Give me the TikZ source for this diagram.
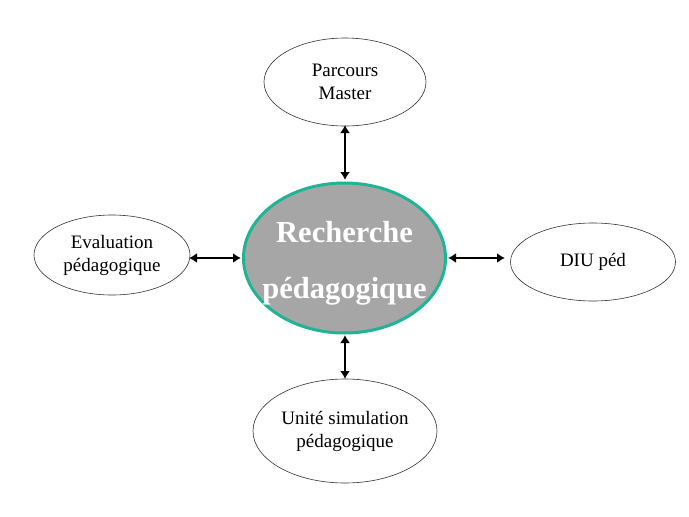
\documentclass[tikz,border=0pt]{standalone}
\usepackage{fontspec}
\setmainfont{Liberation Serif}
\usetikzlibrary{shapes.geometric,arrows.meta}
\definecolor{rim}{RGB}{32,180,150}
\definecolor{core}{RGB}{166,166,166}
\tikzset{
  sat/.style={draw=black!80,line width=0.6pt,fill=white,ellipse,inner sep=0pt,
    font=\fontsize{19}{23}\selectfont,align=center},
  link/.style={{Latex[length=8pt,width=10pt]}-{Latex[length=8pt,width=10pt]},line width=2.8pt,black}
}
\begin{document}
\begin{tikzpicture}[x=1pt,y=-1pt]
\useasboundingbox (0,0) rectangle (689,517);
\fill[white] (0,0) rectangle (689,517);
% central ellipse
\draw[rim,line width=3pt,fill=core] (344.5,258) ellipse [x radius=101,y radius=75];
\node[inner sep=0pt,minimum width=202pt,minimum height=150pt] (c) at (344.5,258) {};
\node[text=white,font=\fontsize{30.5}{30}\selectfont\bfseries,anchor=base] (t1) at (344.5,242) {Recherche};
\node[text=white,font=\fontsize{30.5}{30}\selectfont\bfseries,anchor=base] (t2) at (344.5,298) {pédagogique};
% satellites
\node[sat,minimum width=162pt,minimum height=88pt] (top) at (345,82) {Parcours\\Master};
\node[sat,minimum width=156pt,minimum height=80pt] (left) at (112,255) {Evaluation\\pédagogique};
\node[sat,minimum width=165pt,minimum height=78pt] (right) at (593,262) {DIU péd};
\node[sat,minimum width=184pt,minimum height=104pt] (bot) at (345,431) {Unité simulation\\pédagogique};
% connector anchors
\coordinate (ct) at (345,180);
\coordinate (cb) at (345,335);
\coordinate (cl) at (241,258);
\coordinate (cr) at (448,258);
\coordinate (tb) at (345,125);
\coordinate (bt) at (345,379);
\coordinate (lr) at (189,258);
\coordinate (rl) at (505,258);
\draw[link] (tb) -- (ct);
\draw[link] (cb) -- (bt);
\draw[link] (lr) -- (cl);
\draw[link] (cr) -- (rl);
\end{tikzpicture}
\end{document}
